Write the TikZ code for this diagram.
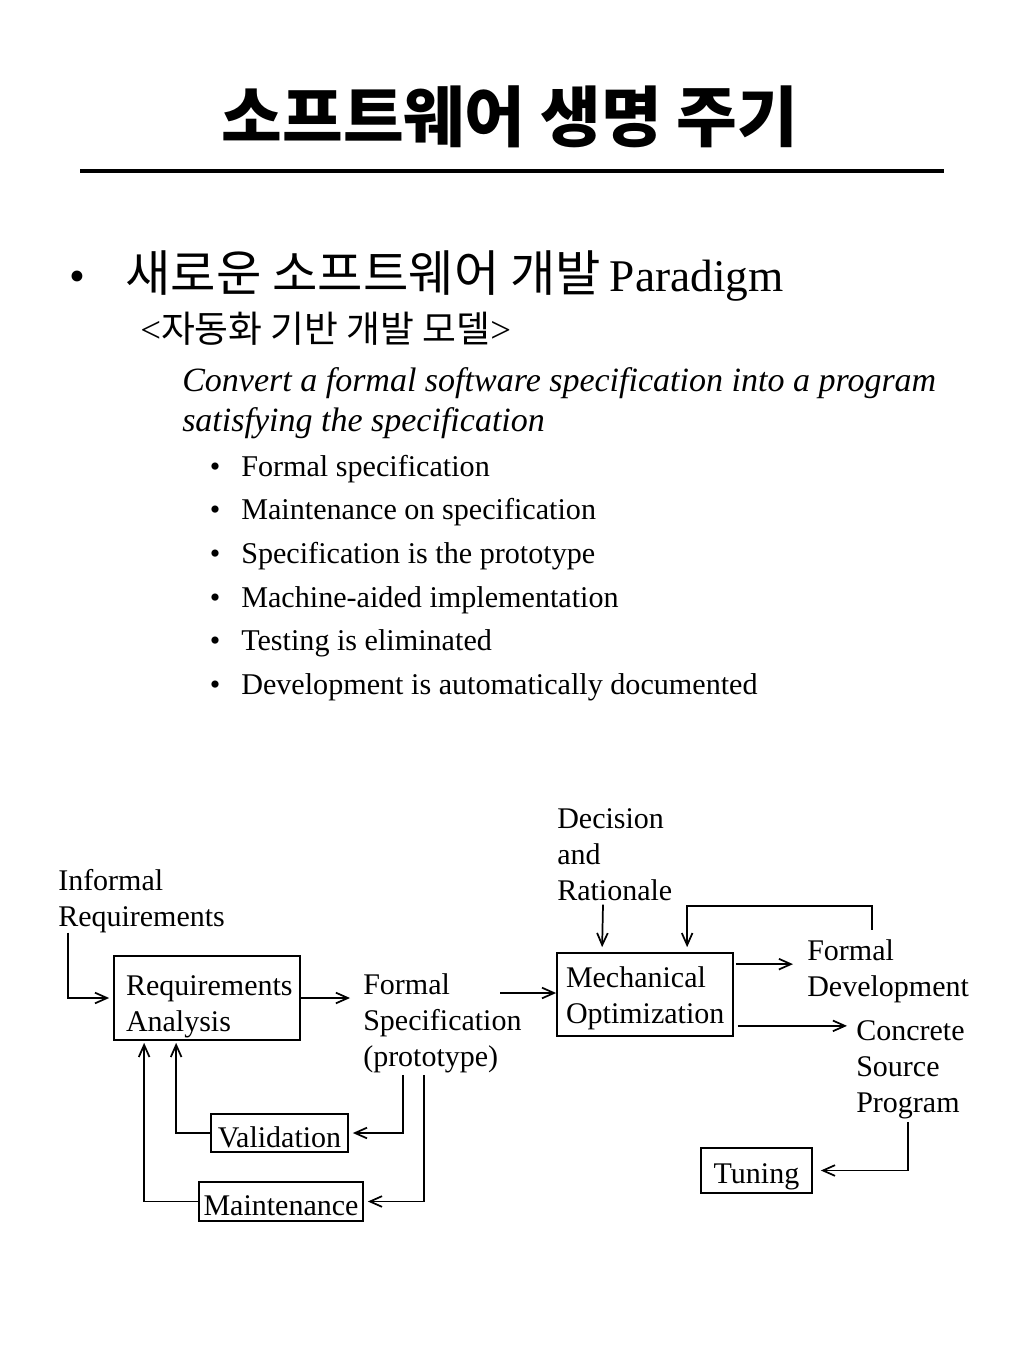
\documentclass[tikz,border=0pt]{standalone}
\usepackage{fontspec}
\setmainfont{Liberation Serif}
\newfontfamily\kr{Noto Sans CJK KR}
\usetikzlibrary{arrows.meta,calc}
\begin{document}
\begin{tikzpicture}[x=0.75pt,y=-0.75pt,
  lbl/.style={anchor=base west, inner sep=0pt, align=left, font=\fontsize{22.5}{27}\selectfont},
  sub/.style={anchor=base west, inner sep=0pt, font=\fontsize{22.6}{27}\selectfont},
  subdot/.style={anchor=base, inner sep=0pt, font=\fontsize{22.5}{27}\selectfont},
  box/.style={draw, line width=1.3pt, inner sep=0pt, font=\fontsize{22.5}{27}\selectfont},
  conn/.style={line width=1.3pt, -{Straight Barb[length=9pt,width=8pt]}},
  ]
\useasboundingbox (0,0) rectangle (1024,1365);

% title
\node[inner sep=0pt, font=\kr\bfseries\fontsize{49.5}{60}\selectfont] (title) at (510,117) {소프트웨어 생명 주기};
\draw[line width=3pt] (80,171) -- (944,171);

% text
\node[anchor=base, inner sep=0pt, font=\fontsize{34}{40}\selectfont] (b0) at (77,291) {•};
\node[anchor=base west, inner sep=0pt, font=\fontsize{34}{40}\selectfont] (l0) at (125,291) {{\kr\fontsize{37}{40}\selectfont 새로운 소프트웨어 개발}\hspace{-2pt} Paradigm};
\node[anchor=base west, inner sep=0pt, font=\fontsize{27.6}{32}\selectfont] (l1) at (140,342) {<{\kr 자동화 기반 개발 모델}>};
\node[anchor=base west, inner sep=0pt, align=left, font=\itshape\fontsize{25.5}{30}\selectfont] (l2) at (182,431) {Convert a formal software specification into a program\\satisfying the specification};

\node[subdot] (d1) at (215,476) {•};
\node[sub] (s1) at (241,476) {Formal specification};
\node[subdot] (d2) at (215,519) {•};
\node[sub] (s2) at (241,519) {Maintenance on specification};
\node[subdot] (d3) at (215,563) {•};
\node[sub] (s3) at (241,563) {Specification is the prototype};
\node[subdot] (d4) at (215,607) {•};
\node[sub] (s4) at (241,607) {Machine-aided implementation};
\node[subdot] (d5) at (215,650) {•};
\node[sub] (s5) at (241,650) {Testing is eliminated};
\node[subdot] (d6) at (215,694) {•};
\node[sub] (s6) at (241,694) {Development is automatically documented};

% diagram
\node[lbl] (inf) at (58,926) {Informal\\Requirements};
\node[box, align=left, text width=121.5pt, inner xsep=9pt, minimum width=139.5pt, minimum height=63pt] (ra) at (207,998) {\rule{0pt}{27.4pt}Requirements\\Analysis};
\node[lbl] (spec) at (363,1066) {Formal\\Specification\\(prototype)};
\node[box, align=left, text width=118.5pt, inner xsep=6.75pt, minimum width=132pt, minimum height=62.25pt] (mo) at (645,994.5) {\rule{0pt}{22pt}Mechanical\\Optimization};
\node[lbl] (dec) at (557,900) {Decision\\and\\Rationale};
\node[lbl] (fd) at (807,996) {Formal\\Development};
\node[lbl] (csp) at (856,1112) {Concrete\\Source\\Program};
\node[box, minimum width=83.25pt, minimum height=33.75pt] (tun) at (756.5,1170.5) {\rule{0pt}{24.4pt}Tuning};
\node[box, minimum width=102.75pt, minimum height=28.5pt] (val) at (279.5,1133) {\rule{0pt}{21.4pt}Validation};
\node[box, minimum width=123pt, minimum height=29.25pt] (mnt) at (281,1201.5) {\rule{0pt}{21.4pt}Maintenance};

\coordinate (specout) at ($(spec.base west)+(137,-73)$);
\coordinate (mofd) at ($(mo.north east)+(2,12)$);
\coordinate (mocsp) at ($(mo.south east)+(4,-11)$);

\draw[conn] ($(inf.south west)+(10,0)$) |- ($(ra.west)+(-4,0)$);
\draw[conn] (ra.east) -- ($(spec.base west |- ra.east)+(-13,0)$);
\draw[conn] (specout) -- (mo.west |- specout);
\draw[conn] ($(dec.south west)+(46,4)$) -- ($(mo.north west)+(46,-5)$);
\draw[conn] ($(fd.north west)+(65,-9)$) -- ++(0,-24) -| ($(mo.north west)+(131,-5)$);
\draw[conn] (mofd) -- ($(fd.base west |- mofd)+(-14,0)$);
\draw[conn] (mocsp) -- ($(csp.base west |- mocsp)+(-9,0)$);
\draw[conn] ($(csp.south west)+(52,3)$) |- ($(tun.east)+(8,0)$);
\draw[conn] ($(spec.south west)+(40,2)$) |- ($(val.east)+(4,0)$);
\draw[conn] (val.west) -| ($(ra.south west)+(63,2)$);
\draw[conn] ($(spec.south west)+(61,2)$) |- ($(mnt.east)+(4,0)$);
\draw[conn] (mnt.west) -| ($(ra.south west)+(31,2)$);
\end{tikzpicture}
\end{document}
